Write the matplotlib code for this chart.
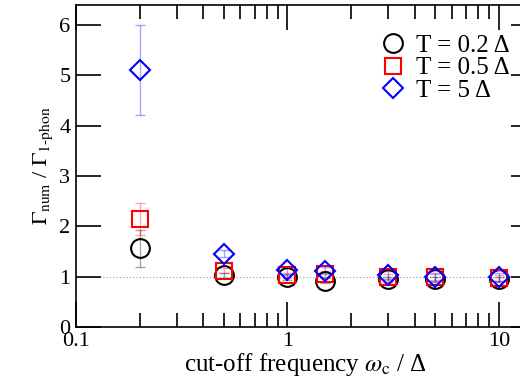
import matplotlib
matplotlib.use('Agg')
import matplotlib.pyplot as plt
import numpy as np
from matplotlib.ticker import LogLocator, NullFormatter, FixedLocator

plt.rcParams['font.family'] = ['Liberation Serif', 'DejaVu Serif']
plt.rcParams['mathtext.fontset'] = 'stix'

# cut-off frequency omega_c / Delta
omega_c = [0.2, 0.5, 1.0, 1.5, 3.0, 5.0, 10.0]

# Gamma_num / Gamma_1-phon for each temperature
ratio_T02 = [1.56, 1.03, 0.99, 0.92, 0.95, 0.95, 0.95]
err_T02 = [0.36, 0.05, 0.05, 0.05, 0.05, 0.05, 0.05]
ratio_T05 = [2.15, 1.12, 1.03, 1.06, 1.00, 1.00, 0.98]
err_T05 = [0.32, 0.05, 0.05, 0.06, 0.06, 0.06, 0.06]
ratio_T5 = [5.11, 1.45, 1.13, 1.12, 1.03, 1.00, 1.00]
err_T5 = [0.89, 0.07, 0.07, 0.07, 0.08, 0.08, 0.08]

labels = ['T = 0.2 Δ', 'T = 0.5 Δ', 'T = 5 Δ']

fig = plt.figure(figsize=(5.2, 3.81), dpi=100)
ax = fig.add_axes([0.146, 0.142, 0.885, 0.845])

ax.axhline(1.0, color='#999999', lw=0.8, ls=(0, (1, 2)), zorder=1)

styles = [
    (ratio_T02, err_T02, 'o', 'black', 13.5),
    (ratio_T05, err_T05, 's', 'red', 12),
    (ratio_T5, err_T5, 'D', 'blue', 9.7),
]
handles = []
for (y, e, m, c, ms), lab in zip(styles, labels):
    ax.errorbar(omega_c, y, yerr=e, fmt='none', ecolor=c, alpha=0.35,
                elinewidth=1, capsize=3.6, capthick=1, zorder=2)
    h, = ax.plot(omega_c, y, ls='none', marker=m, ms=ms, mfc='none',
                 mec=c, mew=1.5, zorder=3, label=lab)
    handles.append(h)

ax.set_xscale('log')
ax.set_xlim(0.1, 15)
ax.set_ylim(0, 6.4)
ax.xaxis.set_major_locator(FixedLocator([0.1, 1, 10]))
ax.set_xticklabels(['0.1', '1', '10'])
ax.xaxis.set_minor_locator(LogLocator(base=10, subs=np.arange(2, 10)))
ax.xaxis.set_minor_formatter(NullFormatter())
ax.set_yticks(range(0, 7))

ax.tick_params(which='both', direction='in', top=True, right=True,
               labelsize=16, width=1.2, colors='black')
ax.tick_params(which='major', length=18, pad=4)
ax.tick_params(which='minor', length=10)
ax.tick_params(axis='x', pad=4)
for s in ax.spines.values():
    s.set_linewidth(1.2)

ax.set_xlabel(r'cut-off frequency $\omega_{\rm c}$ / Δ', fontsize=18, labelpad=0)
ax.set_ylabel(r'$\Gamma_{\rm num}$ / $\Gamma_{\rm 1' + '\u2010' + r'phon}$', fontsize=16, labelpad=3)

leg = ax.legend(handles=handles, loc='upper left', bbox_to_anchor=(0.646, 0.94),
                frameon=False, fontsize=18, handlelength=0.8, handletextpad=0.5,
                labelspacing=0.0, borderaxespad=0)

fig.savefig('out.png', dpi=100)
